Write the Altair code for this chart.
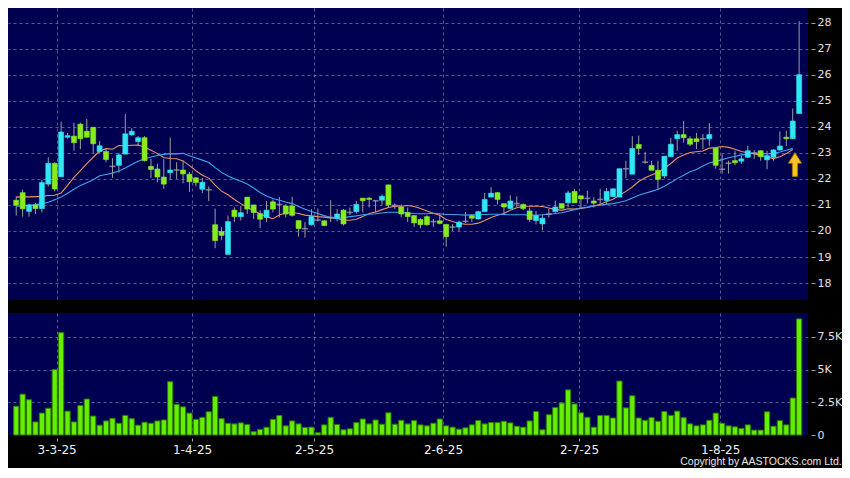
import altair as alt
import pandas as pd

# ---- data (day index 0..122) ----
opens = [21.18, 21.47, 20.75, 21.00, 20.86, 21.80, 22.60, 22.08, 23.60, 23.64,
         24.10, 23.83, 23.98, 23.05, 23.05, 22.48, 22.52, 22.95, 23.69, 23.43,
         23.58, 22.48, 22.38, 22.07, 22.24, 22.34, 22.34, 22.18, 22.04, 21.60,
         21.58, 20.24, 19.98, 19.10, 20.80, 20.55, 21.30, 21.00, 20.67, 20.52,
         21.12, 21.02, 20.96, 20.96, 20.40, 20.09, 20.24, 20.42, 20.39, 20.52,
         20.49, 20.80, 20.71, 20.74, 21.26, 21.26, 21.16, 21.18, 21.77, 20.98,
         20.92, 20.71, 20.59, 20.44, 20.55, 20.36, 20.39, 20.25, 20.15, 20.15,
         20.37, 20.59, 20.46, 20.74, 21.30, 21.47, 21.05, 20.86, 21.05, 21.02,
         20.77, 20.40, 20.27, 20.65, 20.74, 21.05, 21.08, 21.52, 21.35, 21.25,
         21.15, 21.21, 21.17, 21.32, 21.30, 22.39, 22.18, 23.32, 22.64, 22.52,
         22.33, 22.11, 22.85, 23.54, 23.70, 23.54, 23.54, 23.54, 23.54, 23.18,
         22.37, 22.60, 22.70, 22.68, 22.83, 22.99, 23.08, 22.73, 22.83, 23.11,
         23.60, 23.54, 24.51]
highs = [21.33, 21.58, 21.05, 21.08, 21.96, 22.83, 22.64, 24.19, 23.76, 24.16,
         24.16, 24.30, 23.98, 23.45, 23.14, 22.79, 23.00, 24.49, 23.95, 23.64,
         23.64, 22.77, 22.58, 22.77, 23.58, 22.64, 22.70, 22.27, 22.07, 22.04,
         21.71, 20.86, 20.15, 20.59, 20.90, 20.96, 21.30, 21.00, 20.80, 21.15,
         21.21, 21.31, 21.02, 21.31, 20.40, 20.34, 20.84, 20.86, 20.42, 21.18,
         20.84, 20.84, 20.90, 21.15, 21.26, 21.30, 21.17, 21.40, 21.77, 21.05,
         21.02, 20.90, 20.62, 20.48, 20.60, 20.46, 20.65, 20.28, 20.27, 20.40,
         20.73, 20.63, 20.78, 21.46, 21.68, 21.50, 21.05, 21.37, 21.33, 21.05,
         20.90, 20.77, 20.65, 20.84, 21.17, 21.05, 21.55, 21.62, 21.35, 21.55,
         21.30, 21.62, 21.65, 21.62, 22.39, 22.70, 23.64, 23.66, 23.04, 22.70,
         22.70, 22.87, 23.58, 23.85, 24.22, 23.64, 23.76, 23.72, 24.14, 23.20,
         22.95, 22.70, 23.08, 22.89, 23.27, 23.10, 23.10, 23.08, 23.14, 23.82,
         23.85, 24.70, 28.06]
lows = [20.59, 20.55, 20.55, 20.65, 20.71, 21.71, 21.52, 22.08, 23.54, 23.08,
        23.14, 23.58, 22.99, 23.00, 22.64, 22.04, 22.24, 22.95, 23.66, 23.26,
        22.67, 22.04, 21.87, 21.62, 21.98, 22.00, 21.83, 21.50, 21.71, 21.46,
        21.15, 19.34, 19.65, 19.10, 20.34, 20.40, 20.65, 20.46, 20.11, 20.34,
        20.71, 20.52, 20.52, 20.55, 19.78, 19.74, 20.21, 20.36, 20.18, 20.34,
        20.37, 20.21, 20.61, 20.67, 20.71, 20.90, 20.71, 21.00, 20.90, 20.84,
        20.52, 20.34, 20.15, 20.10, 20.20, 20.15, 20.25, 19.40, 20.00, 19.99,
        20.30, 20.35, 20.44, 20.74, 21.30, 21.02, 20.62, 20.84, 20.90, 20.80,
        20.34, 20.25, 20.03, 20.52, 20.71, 20.85, 20.90, 21.08, 20.84, 21.05,
        20.90, 21.02, 21.02, 21.30, 21.30, 22.02, 22.18, 22.92, 22.58, 22.33,
        21.58, 22.02, 22.85, 23.08, 23.39, 23.26, 23.14, 23.14, 23.26, 22.39,
        22.20, 22.20, 22.52, 22.58, 22.80, 22.77, 22.70, 22.37, 22.70, 23.08,
        23.26, 23.54, 24.51]
closes = [20.99, 20.85, 21.00, 20.86, 21.86, 22.60, 21.61, 23.80, 23.66, 23.39,
          23.54, 23.60, 23.35, 23.27, 22.74, 22.48, 22.92, 23.73, 23.83, 23.58,
          22.70, 22.36, 22.07, 21.80, 22.34, 22.34, 22.19, 21.89, 21.86, 21.87,
          21.58, 19.63, 19.83, 20.36, 20.55, 20.70, 20.84, 20.71, 20.45, 20.80,
          20.84, 21.02, 20.65, 20.60, 20.09, 20.09, 20.55, 20.42, 20.21, 20.52,
          20.65, 20.27, 20.71, 21.02, 21.16, 21.21, 21.16, 21.33, 21.00, 20.98,
          20.65, 20.55, 20.31, 20.24, 20.24, 20.36, 20.29, 19.78, 20.15, 20.34,
          20.37, 20.49, 20.74, 21.21, 21.45, 21.21, 20.92, 21.15, 21.05, 20.86,
          20.44, 20.59, 20.49, 20.65, 20.92, 20.87, 21.46, 21.08, 21.23, 21.25,
          21.07, 21.21, 21.52, 21.62, 22.39, 22.39, 23.17, 23.17, 22.64, 22.33,
          21.98, 22.87, 23.33, 23.70, 23.58, 23.33, 23.43, 23.54, 23.70, 22.52,
          22.37, 22.60, 22.62, 22.77, 23.08, 22.99, 22.85, 22.89, 23.11, 23.26,
          23.54, 24.22, 26.00]
volumes = [2200, 3125, 2700, 1000, 1675, 2050, 5000, 7825, 1825, 1000,
           2250, 2750, 1450, 750, 1075, 1275, 900, 1500, 1250, 750,
           975, 900, 1075, 1150, 4075, 2350, 2150, 1675, 1200, 1350,
           1775, 2950, 1250, 900, 850, 925, 800, 250, 425, 600,
           1200, 1500, 700, 1075, 850, 575, 600, 175, 775, 1350,
           800, 400, 475, 950, 1225, 850, 1150, 825, 1700, 825,
           1125, 850, 1100, 775, 700, 900, 1225, 700, 600, 450,
           550, 775, 1100, 850, 950, 950, 1050, 925, 675, 600,
           1075, 1800, 400, 1550, 2100, 2450, 3450, 2375, 1700, 1350,
           600, 1500, 1500, 1300, 4125, 2075, 3000, 1300, 1125, 1325,
           1050, 1800, 1500, 1825, 1325, 850, 700, 775, 1125, 1675,
           900, 700, 625, 500, 775, 375, 375, 1775, 675, 1100,
           775, 2825, 8875]
ma10 = [21.30, 21.31, 21.31, 21.32, 21.33, 21.36, 21.37, 21.46, 21.75,
        22.06, 22.32, 22.59, 22.83, 23.07, 23.16, 23.14, 23.28, 23.27, 23.29, 23.30,
        23.22, 23.10, 22.97, 22.82, 22.78, 22.77, 22.69, 22.51, 22.31, 22.14,
        22.03, 21.76, 21.53, 21.39, 21.21, 21.05, 20.91, 20.79, 20.65, 20.55,
        20.47, 20.61, 20.69, 20.72, 20.67, 20.61, 20.58, 20.55, 20.53, 20.50,
        20.48, 20.41, 20.41, 20.45, 20.56, 20.67, 20.73, 20.82, 20.90, 20.95,
        20.95, 20.98, 20.94, 20.86, 20.77, 20.68, 20.60, 20.44, 20.36, 20.29,
        20.26, 20.26, 20.30, 20.40, 20.52, 20.60, 20.67, 20.80, 20.89, 20.95,
        20.95, 20.96, 20.94, 20.88, 20.83, 20.79, 20.85, 20.84, 20.86, 20.90,
        20.96, 21.02, 21.13, 21.22, 21.37, 21.52, 21.69, 21.90, 22.04, 22.15,
        22.24, 22.41, 22.59, 22.80, 22.92, 23.01, 23.04, 23.07, 23.18, 23.20,
        23.24, 23.21, 23.14, 23.05, 23.00, 22.96, 22.90, 22.84, 22.78, 22.85,
        22.97, 23.13]
ma20 = [20.95, 20.97, 20.99, 21.01, 21.04, 21.10, 21.20, 21.30, 21.45, 21.60,
        21.75, 21.85, 21.97, 22.12, 22.17, 22.22, 22.30, 22.42, 22.55,
        22.68, 22.77, 22.84, 22.90, 22.94, 22.97, 22.96, 22.98, 22.89, 22.80, 22.72,
        22.63, 22.43, 22.25, 22.11, 22.00, 21.91, 21.80, 21.65, 21.48, 21.34,
        21.25, 21.18, 21.11, 21.05, 20.94, 20.83, 20.75, 20.67, 20.59, 20.52,
        20.48, 20.51, 20.55, 20.58, 20.62, 20.64, 20.66, 20.69, 20.72, 20.72,
        20.71, 20.69, 20.67, 20.66, 20.66, 20.68, 20.66, 20.63, 20.63, 20.62,
        20.61, 20.62, 20.62, 20.63, 20.64, 20.64, 20.63, 20.62, 20.62, 20.62,
        20.61, 20.61, 20.62, 20.64, 20.67, 20.70, 20.76, 20.82, 20.88, 20.92,
        20.96, 20.99, 21.03, 21.05, 21.10, 21.16, 21.27, 21.37, 21.45, 21.52,
        21.60, 21.72, 21.86, 22.01, 22.14, 22.27, 22.36, 22.49, 22.61, 22.67,
        22.74, 22.81, 22.86, 22.92, 22.96, 22.99, 22.97, 22.96, 22.98, 23.03,
        23.10, 23.17]

tick_pos = [6.3, 27.4, 46.4, 66.5, 87.7, 109.7]
tick_labels = ["3-3-25", "1-4-25", "2-5-25", "2-6-25", "2-7-25", "1-8-25"]
price_ticks = [18, 19, 20, 21, 22, 23, 24, 25, 26, 27, 28]
vol_ticks = [0, 2500, 5000, 7500]
arrow_day = [121.35]
arrow_price = [22.55]

# ---- tables ----
n = len(closes)
df = pd.DataFrame({"day": list(range(n)), "open": opens, "high": highs,
                   "low": lows, "close": closes, "volume": volumes})
df["dir"] = ["up" if c > o else ("down" if c < o else "flat")
             for o, c in zip(opens, closes)]
df["lo"] = df[["open", "close"]].min(axis=1)
df["hi"] = df[["open", "close"]].max(axis=1)

ma_df = pd.DataFrame({
    "day": list(range(len(ma10))) + list(range(len(ma20))),
    "value": ma10 + ma20,
    "series": ["MA10"] * len(ma10) + ["MA20"] * len(ma20),
})
arrow_df = pd.DataFrame({"day": arrow_day, "price": arrow_price})

# ---- scales / axes ----
W = 800
xscale = alt.Scale(domain=[-0.5, 122.6], nice=False, zero=False)
labels_js = "[" + ",".join("'%s'" % s for s in tick_labels) + "]"
pos_js = "[" + ",".join(str(p) for p in tick_pos) + "]"
label_expr = "%s[indexof(%s, datum.value)]" % (labels_js, pos_js)

xaxis_main = alt.Axis(values=tick_pos, labels=False, ticks=False,
                      domain=False, grid=True, title=None)
pscale = alt.Scale(domain=[17.35, 28.56], nice=False, zero=False)
paxis = alt.Axis(orient="right", values=price_ticks, format="d", title=None,
                 grid=True, domain=False, tickSize=4, offset=3, labelPadding=2,
                 labelFontSize=11, labelOverlap=False)


def X(field="day"):
    return alt.X(field + ":Q", scale=xscale, axis=xaxis_main)


def Y(field):
    return alt.Y(field + ":Q", scale=pscale, axis=paxis)


dir_scale = alt.Scale(domain=["up", "down"], range=["#30E6F2", "#86EC1E"])
ma_scale = alt.Scale(domain=["MA10", "MA20"], range=["#E8926A", "#3FA4EE"])

wicks = alt.Chart(df).mark_rule(color="#9E9E9E", strokeWidth=1).encode(
    x=X(), y=Y("low"), y2="high:Q")

lines = alt.Chart(ma_df).mark_line(strokeWidth=1.1).encode(
    x=X(), y=Y("value"),
    color=alt.Color("series:N", scale=ma_scale, legend=None),
    detail="series:N")

bodies = alt.Chart(df).transform_filter("datum.dir != 'flat'").mark_bar(
    size=5, strokeWidth=0.6).encode(
    x=X(), y=Y("lo"), y2="hi:Q",
    fill=alt.Fill("dir:N", scale=dir_scale, legend=None),
    stroke=alt.Stroke("dir:N", scale=dir_scale, legend=None))

dojis = alt.Chart(df).transform_filter("datum.dir == 'flat'").mark_tick(
    orient="horizontal", size=6, thickness=1.6, color="#A8A8A8").encode(
    x=X(), y=Y("close"))

arrow_path = "M0,-1 L0.56,-0.12 L0.22,-0.12 L0.22,1 L-0.22,1 L-0.22,-0.12 L-0.56,-0.12 Z"
arrow = alt.Chart(arrow_df).mark_point(
    shape=arrow_path, size=560, filled=True, fill="#F6C21C", stroke="#B07A00",
    strokeWidth=0.8, opacity=1).encode(x=X(), y=Y("price"))

main = alt.layer(wicks, lines, bodies, dojis, arrow).properties(width=W, height=292)

vol = alt.Chart(df).mark_bar(size=5.2, fill="#66EE00", stroke="#2C7A00",
                             strokeWidth=1).encode(
    x=alt.X("day:Q", scale=xscale,
            axis=alt.Axis(values=tick_pos, labelExpr=label_expr, grid=True,
                          ticks=True, tickSize=3, offset=3, labelPadding=3,
                          domain=False, title=None, labelFontSize=12,
                          labelColor="#F2F2F2", labelOverlap=False)),
    y=alt.Y("volume:Q", scale=alt.Scale(domain=[0, 9325], nice=False),
            axis=alt.Axis(orient="right", values=vol_ticks, title=None,
                          labelExpr="datum.value == 0 ? '0' : (datum.value / 1000) + 'K'",
                          grid=True, domain=False, tickSize=4, offset=3,
                          labelPadding=2, labelFontSize=11, labelOverlap=False,
                          gridOpacity={"condition": {"test": "datum.value === 0", "value": 0}, "value": 1})),
).properties(width=W, height=122)

chart = alt.vconcat(main, vol, spacing=13).properties(
    padding=0,
    background="#000000",
    title=alt.TitleParams("Copyright by AASTOCKS.com Ltd.", orient="bottom",
                          anchor="end", fontSize=10.5, font="Liberation Sans",
                          fontWeight="normal", color="#E8E8E8", offset=2),
).configure_view(fill="#000050", stroke=None).configure_axis(
    gridColor="#5A5A90", gridDash=[3, 3], gridWidth=1,
    labelColor="#E0E0E0", labelFont="DejaVu Sans", tickColor="#A0A0A0",
)

chart.save("out.html", embed_options={"renderer": "svg", "actions": False})
